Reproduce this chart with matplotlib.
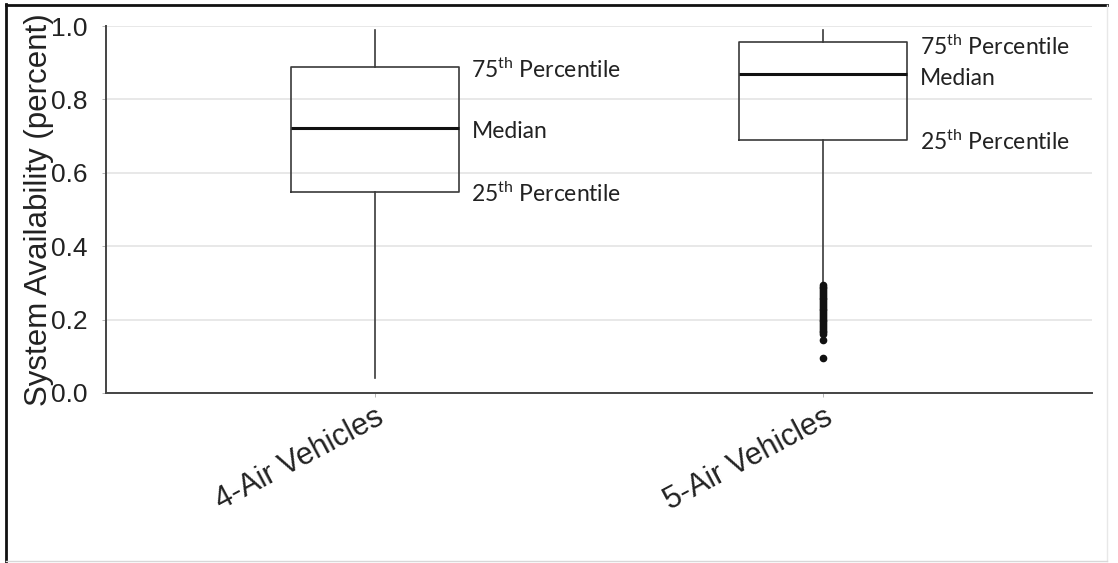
import matplotlib
matplotlib.use("Agg")
import matplotlib.pyplot as plt
from matplotlib.lines import Line2D

plt.rcParams['font.family'] = ['Liberation Sans', 'DejaVu Sans']
plt.rcParams['mathtext.fontset'] = 'custom'
plt.rcParams['mathtext.rm'] = 'Lato'
plt.rcParams['mathtext.it'] = 'Lato:italic'

# ---- data ----
categories = ["4-Air Vehicles", "5-Air Vehicles"]
whisker_low = [0.04, 0.30]
q1 = [0.548, 0.690]
median = [0.722, 0.869]
q3 = [0.888, 0.956]
whisker_high = [0.99, 0.99]
outliers_4 = []
outliers_5 = [0.295, 0.29, 0.285, 0.28, 0.275, 0.27, 0.265, 0.26, 0.255, 0.25,
              0.245, 0.24, 0.235, 0.23, 0.225, 0.22, 0.215, 0.21, 0.205, 0.20,
              0.195, 0.19, 0.185, 0.18, 0.175, 0.17, 0.165, 0.16, 0.145, 0.095]
yticks = [0.0, 0.2, 0.4, 0.6, 0.8, 1.0]
ytick_labels = ["0.0", "0.2", "0.4", "0.6", "0.8", "1.0"]
annot_labels = ["75$^{\\mathrm{th}}$ Percentile", "Median", "25$^{\\mathrm{th}}$ Percentile"]

W, H = 1118, 563
fig = plt.figure(figsize=(W / 100, H / 100), dpi=100)
ax = fig.add_axes([106 / W, 1 - 393 / H, (1092 - 106) / W, (393 - 26) / H])

stats = []
outs = [outliers_4, outliers_5]
for i, name in enumerate(categories):
    stats.append(dict(label=name, whislo=whisker_low[i], q1=q1[i], med=median[i],
                      q3=q3[i], whishi=whisker_high[i], fliers=outs[i]))

positions = [1, 2]
box_w = 0.375
ax.bxp(stats, positions=positions, widths=box_w, showcaps=False,
       boxprops=dict(color='#3a3a3a', linewidth=1.2),
       whiskerprops=dict(color='#3a3a3a', linewidth=1.2),
       medianprops=dict(color='#111111', linewidth=2.2),
       flierprops=dict(marker='o', markerfacecolor='#111111', markeredgecolor='#111111',
                       markersize=4.5, linestyle='none'))

ax.set_xlim(0.4, 2.6)
ax.set_ylim(0, 1.0)
ax.set_yticks(yticks)
ax.set_yticklabels(ytick_labels, fontsize=19, color='#222222')
ax.set_xticks(positions)
ax.set_xticklabels(categories, fontsize=22, rotation=28, ha='right',
                   rotation_mode='anchor', color='#222222')
ax.tick_params(axis='both', length=3, width=0.6, color='#aaaaaa', pad=4)
ax.tick_params(axis='y', pad=10)
ax.set_ylabel("System Availability (percent)", fontsize=22.5, color='#222222', labelpad=-2)

ax.yaxis.grid(True, color='#e4e4e4', linewidth=1.2)
ax.set_axisbelow(True)
for s in ['top', 'right']:
    ax.spines[s].set_visible(False)
for s in ['left', 'bottom']:
    ax.spines[s].set_color('#444444')
    ax.spines[s].set_linewidth(1.4)

# annotations next to boxes (baseline positions)
ann_y = [[0.858, 0.695, 0.520], [0.921, 0.839, 0.662]]
for i in range(2):
    x_txt = positions[i] + box_w / 2 + 0.028
    for lab, yv in zip(annot_labels, ann_y[i]):
        ax.text(x_txt, yv, lab, fontsize=16.5, family='Lato', color='#222222',
                va='baseline', ha='left')

# figure border
fig.add_artist(Line2D([6 / W, 6 / W], [0, 1 - 4 / H], transform=fig.transFigure,
                      color='#111111', linewidth=2))
fig.add_artist(Line2D([6 / W, 1107 / W], [1 - 5 / H, 1 - 5 / H], transform=fig.transFigure,
                      color='#111111', linewidth=2))
fig.add_artist(Line2D([1107 / W, 1107 / W], [1 - 561 / H, 1 - 5 / H], transform=fig.transFigure,
                      color='#e8e8e8', linewidth=1))
fig.add_artist(Line2D([6 / W, 1107 / W], [1 - 561 / H, 1 - 561 / H], transform=fig.transFigure,
                      color='#d8d8d8', linewidth=1))

fig.savefig("out.png", dpi=100)
